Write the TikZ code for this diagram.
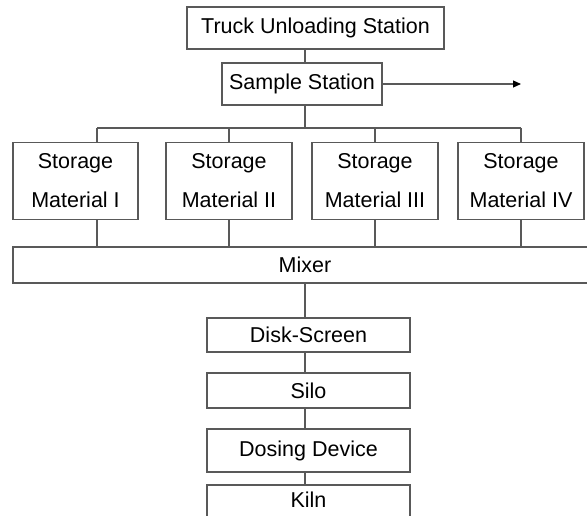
\documentclass[tikz,border=0pt]{standalone}
\usepackage{fontspec}
\setmainfont{Liberation Sans}
\usetikzlibrary{arrows.meta}
\begin{document}
\begin{tikzpicture}[x=1pt,y=-1pt,
  box/.style={draw=black!65,line width=1.1pt,rectangle,inner sep=0pt,
    font=\fontsize{21.5}{39}\selectfont,text=black,align=center},
  link/.style={draw=black!65,line width=1.1pt}]
\clip (0,0) rectangle (587,516);
\fill[white] (0,0) rectangle (587,516);
\coordinate (spine) at (305,0);
\node[box,minimum width=257pt,minimum height=42pt] (truck) at (315.5,28) {Truck Unloading Station};
\node[box,minimum width=160pt,minimum height=42pt] (sample) at (302,84) {Sample Station};
\coordinate (out) at (521,84);
\node[box,minimum width=125pt,minimum height=77pt] (s1) at (75.5,181) {Storage\\Material I};
\node[box,minimum width=126pt,minimum height=77pt] (s2) at (229,181) {Storage\\Material II};
\node[box,minimum width=126pt,minimum height=77pt] (s3) at (375,181) {Storage\\Material III};
\node[box,minimum width=126pt,minimum height=77pt] (s4) at (521,181) {Storage\\Material IV};
\node[box,minimum width=584pt,minimum height=36pt] (mixer) at (305,265) {Mixer};
\node[box,minimum width=203pt,minimum height=34pt] (disk) at (308.5,335) {Disk-Screen};
\node[box,minimum width=203pt,minimum height=35pt] (silo) at (308.5,390.5) {Silo};
\node[box,minimum width=203pt,minimum height=43pt] (dose) at (308.5,450.5) {Dosing Device};
\node[box,minimum width=203pt,minimum height=44pt,text depth=0pt] (kiln) at (308.5,507) {};
\node[font=\fontsize{21.5}{26}\selectfont] (kilntext) at (308.5,500) {Kiln};
\coordinate (bus) at (0,128);
\coordinate (d1) at (97,0);
% connectors
\draw[link] (truck.south -| spine) -- (sample.north -| spine);
\draw[link] (sample.south -| spine) -- (bus -| spine);
\draw[link] (bus -| d1) -- (bus -| s4);
\draw[link] (bus -| d1) -- (s1.north -| d1);
\draw[link] (bus -| s2) -- (s2.north);
\draw[link] (bus -| s3) -- (s3.north);
\draw[link] (bus -| s4) -- (s4.north);
\draw[link] (s1.south -| d1) -- (mixer.north -| d1);
\draw[link] (s2.south) -- (mixer.north -| s2);
\draw[link] (s3.south) -- (mixer.north -| s3);
\draw[link] (s4.south) -- (mixer.north -| s4);
\draw[link] (mixer.south -| spine) -- (disk.north -| spine);
\draw[link] (disk.south -| spine) -- (silo.north -| spine);
\draw[link] (silo.south -| spine) -- (dose.north -| spine);
\draw[link] (dose.south -| spine) -- (kiln.north -| spine);
\draw[link,-{Triangle[length=8pt,width=7pt,fill=black,color=black]}] (sample.east) -- (out);
\end{tikzpicture}
\end{document}
